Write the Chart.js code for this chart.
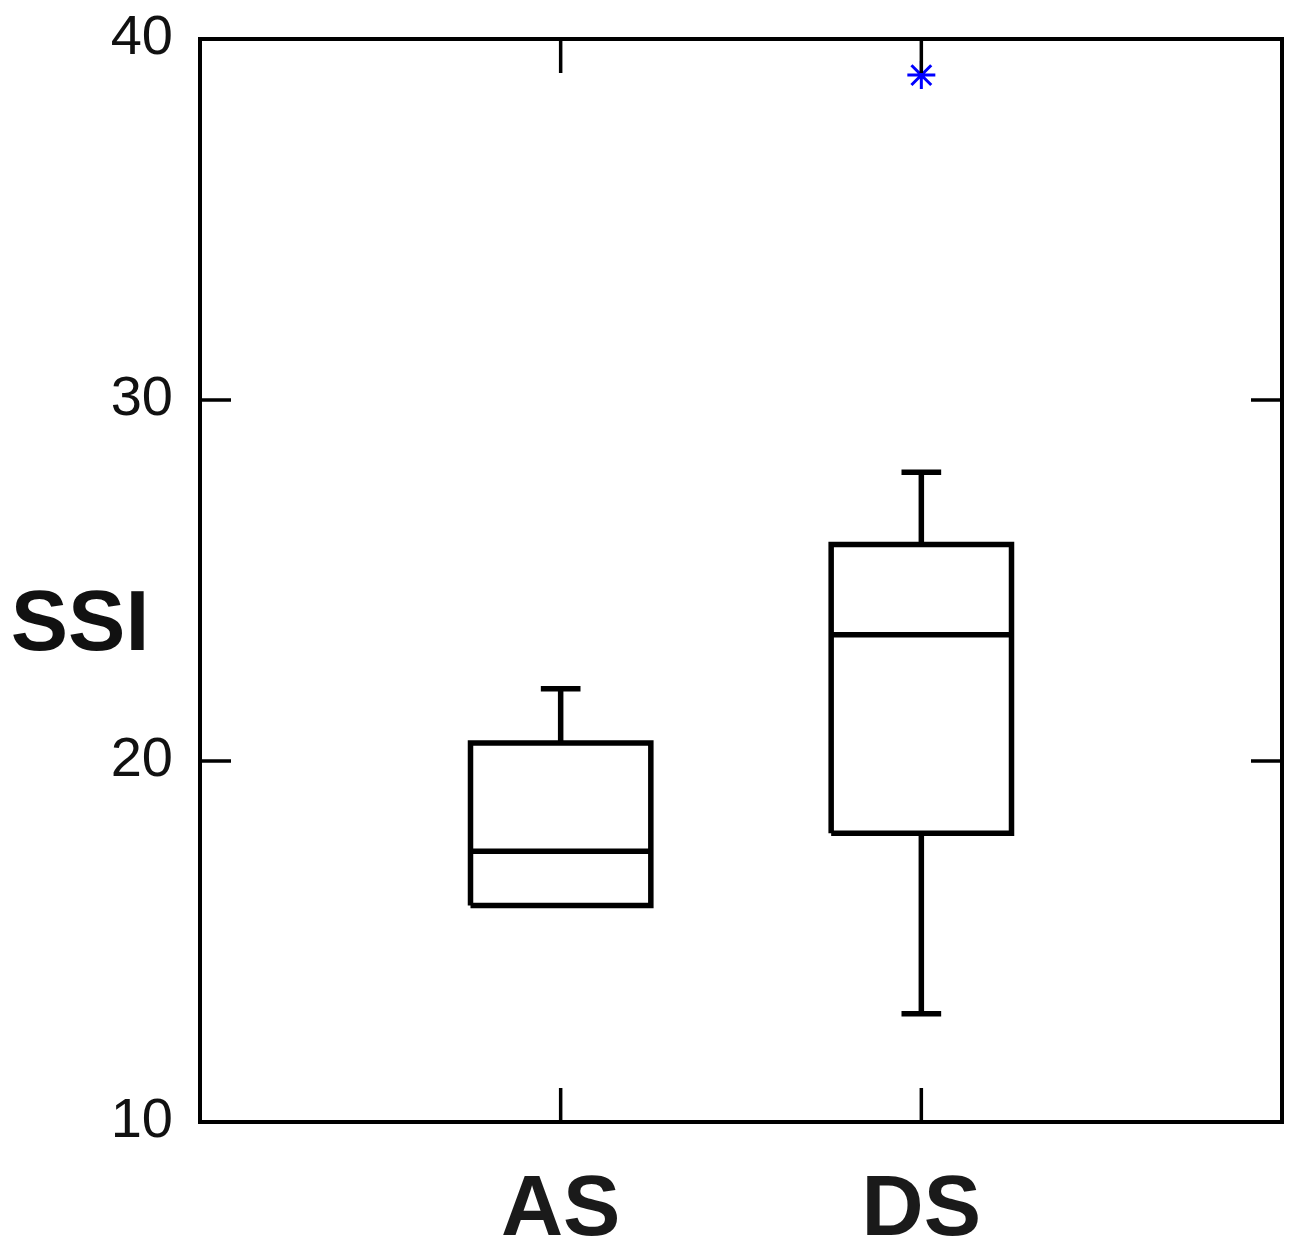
<!DOCTYPE html>
<html>
<head>
<meta charset="utf-8">
<style>
  html, body { margin: 0; padding: 0; background: #fff; }
  #wrap { width: 1293px; height: 1246px; }
</style>
<script src="https://cdn.jsdelivr.net/npm/chart.js@4.4.1/dist/chart.umd.min.js"></script>
</head>
<body>
<div id="wrap"><canvas id="boxChart" width="1293" height="1246"></canvas></div>
<script>
// Data
const categories = ['AS', 'DS'];
const q1 = [16, 18];
const medians = [17.5, 23.5];
const q3 = [20.5, 26];
const whiskerLow = [16, 13];
const whiskerHigh = [22, 28];
const outliers = [[], [39]];
const yTicks = [10, 20, 30, 40];

const FONT = '"Liberation Sans", Arial, sans-serif';
const BOX_HALF = 0.25;
const CAP_HALF = 0.055;

// Build polyline points (null separates segments)
const boxPoints = [];
const medianPoints = [];
const whiskerPoints = [];
const outlierPoints = [];
categories.forEach((c, i) => {
    const x = i + 1;
    boxPoints.push(
        { x: x - BOX_HALF, y: q1[i] }, { x: x + BOX_HALF, y: q1[i] },
        { x: x + BOX_HALF, y: q3[i] }, { x: x - BOX_HALF, y: q3[i] },
        { x: x - BOX_HALF, y: q1[i] }, { x: x, y: null }
    );
    medianPoints.push({ x: x - BOX_HALF, y: medians[i] }, { x: x + BOX_HALF, y: medians[i] }, { x: x, y: null });
    if (whiskerHigh[i] > q3[i]) {
        whiskerPoints.push({ x: x, y: q3[i] }, { x: x, y: whiskerHigh[i] }, { x: x, y: null });
        whiskerPoints.push({ x: x - CAP_HALF, y: whiskerHigh[i] }, { x: x + CAP_HALF, y: whiskerHigh[i] }, { x: x, y: null });
    }
    if (whiskerLow[i] < q1[i]) {
        whiskerPoints.push({ x: x, y: q1[i] }, { x: x, y: whiskerLow[i] }, { x: x, y: null });
        whiskerPoints.push({ x: x - CAP_HALF, y: whiskerLow[i] }, { x: x + CAP_HALF, y: whiskerLow[i] }, { x: x, y: null });
    }
    outliers[i].forEach(v => outlierPoints.push({ x: x, y: v }));
});

const lineStyle = {
    showLine: true, spanGaps: false, pointRadius: 0, borderColor: '#000',
    borderWidth: 5.5, borderJoinStyle: 'miter', borderCapStyle: 'butt', tension: 0, fill: false
};

// Frame, inward ticks and horizontal axis title
const framePlugin = {
    id: 'frame',
    afterDraw(chart) {
        const { ctx, chartArea: a, scales } = chart;
        const len = 31;
        ctx.save();
        ctx.strokeStyle = '#000';
        ctx.lineWidth = 3.5;
        ctx.beginPath();
        scales.y.ticks.forEach(t => {
            const py = scales.y.getPixelForValue(t.value);
            ctx.moveTo(a.left, py); ctx.lineTo(a.left + len, py);
            ctx.moveTo(a.right, py); ctx.lineTo(a.right - len, py);
        });
        scales.x.ticks.forEach(t => {
            const px = scales.x.getPixelForValue(t.value);
            ctx.moveTo(px, a.bottom); ctx.lineTo(px, a.bottom - len - 3);
            ctx.moveTo(px, a.top); ctx.lineTo(px, a.top + len + 3);
        });
        ctx.stroke();
        ctx.lineWidth = 4;
        ctx.strokeRect(a.left, a.top, a.right - a.left, a.bottom - a.top);

        ctx.fillStyle = '#111';
        ctx.font = 'bold 86px ' + FONT;
        ctx.textAlign = 'center';
        ctx.textBaseline = 'middle';
        ctx.fillText('SSI', 80, 626);
        ctx.restore();
    }
};

new Chart(document.getElementById('boxChart'), {
    type: 'scatter',
    data: {
        datasets: [
            { label: 'box', data: boxPoints, ...lineStyle },
            { label: 'median', data: medianPoints, ...lineStyle },
            { label: 'whisker', data: whiskerPoints, ...lineStyle },
            {
                label: 'outlier', data: outlierPoints, showLine: false,
                pointStyle: 'star', pointRadius: 14, borderColor: '#0000ff',
                backgroundColor: '#0000ff', pointBorderWidth: 3
            }
        ]
    },
    options: {
        responsive: false,
        animation: false,
        layout: { autoPadding: false, padding: { top: 39, right: 11, left: 0, bottom: 0 } },
        plugins: { legend: { display: false }, tooltip: { enabled: false } },
        scales: {
            x: {
                type: 'linear', min: 0, max: categories.length + 1,
                afterBuildTicks: s => { s.ticks = categories.map((_, i) => ({ value: i + 1 })); },
                afterFit: s => { s.height = 124; s.paddingLeft = 0; s.paddingRight = 0; },
                ticks: {
                    callback: v => categories[v - 1],
                    font: { family: FONT, size: 86, weight: 'bold' },
                    color: '#1a1a1a', padding: 30, autoSkip: false, maxRotation: 0
                },
                grid: { display: false },
                border: { display: false }
            },
            y: {
                type: 'linear', min: 10, max: 40,
                afterBuildTicks: s => { s.ticks = yTicks.map(v => ({ value: v })); },
                afterFit: s => { s.width = 200; s.paddingTop = 0; s.paddingBottom = 0; },
                ticks: {
                    callback: v => String(v),
                    font: { family: FONT, size: 56 },
                    color: '#111', padding: 19
                },
                grid: { display: false },
                border: { display: false }
            }
        }
    },
    plugins: [framePlugin]
});
</script>
</body>
</html>
